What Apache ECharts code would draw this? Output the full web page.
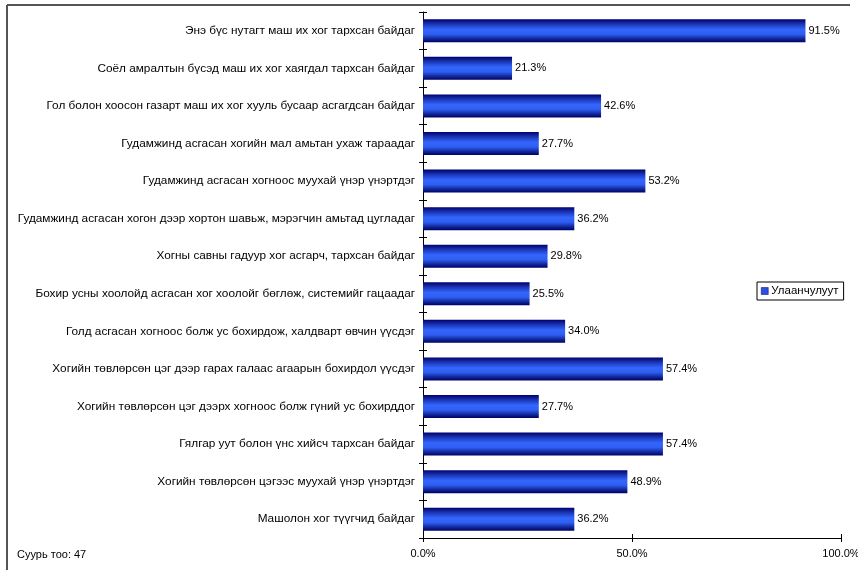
<!DOCTYPE html>
<html><head><meta charset="utf-8">
<script src="https://cdn.jsdelivr.net/npm/echarts@6/dist/echarts.min.js"></script>
<style>html,body{margin:0;padding:0;background:#fff;overflow:hidden}#c{width:858px;height:570px}</style>
</head><body><div id="c"></div>
<script>
var categories = [
  "Энэ бүс нутагт маш их хог тархсан байдаг",
  "Соёл амралтын бүсэд маш их хог хаягдал тархсан байдаг",
  "Гол болон хоосон газарт маш их хог хууль бусаар асгагдсан байдаг",
  "Гудамжинд асгасан хогийн мал амьтан ухаж тараадаг",
  "Гудамжинд асгасан хогноос муухай үнэр үнэртдэг",
  "Гудамжинд асгасан хогон дээр хортон шавьж, мэрэгчин амьтад цугладаг",
  "Хогны савны гадуур хог асгарч, тархсан байдаг",
  "Бохир усны хоолойд асгасан хог хоолойг бөглөж, системийг гацаадаг",
  "Голд асгасан хогноос болж ус бохирдож, халдварт өвчин үүсдэг",
  "Хогийн төвлөрсөн цэг дээр гарах галаас агаарын бохирдол үүсдэг",
  "Хогийн төвлөрсөн цэг дээрх хогноос болж гүний ус бохирддог",
  "Гялгар уут болон үнс хийсч тархсан байдаг",
  "Хогийн төвлөрсөн цэгээс муухай үнэр үнэртдэг",
  "Машолон хог түүгчид байдаг"
];
var values = [91.5, 21.3, 42.6, 27.7, 53.2, 36.2, 29.8, 25.5, 34.0, 57.4, 27.7, 57.4, 48.9, 36.2];
var seriesName = "Улаанчулуут";
var baseNote = "Суурь тоо: 47";
var xTicks = [0, 50, 100];

var FONT = "'Liberation Sans', Arial, sans-serif";
var chart = echarts.init(document.getElementById('c'), null, {renderer: 'canvas', width: 858, height: 570});
var grad = new echarts.graphic.LinearGradient(0, 0, 0, 1, [
  {offset: 0, color: '#00006e'},
  {offset: 0.2, color: '#1a33b0'},
  {offset: 0.45, color: '#3366ff'},
  {offset: 0.65, color: '#2f5ef0'},
  {offset: 0.85, color: '#10279a'},
  {offset: 1, color: '#000066'}
]);
function gridRect() { return {left: 423, right: 17, top: 12, bottom: 32, containLabel: false, outerBoundsMode: 'none'}; }
chart.setOption({
  animation: false,
  textStyle: {fontFamily: FONT},
  grid: [gridRect(), gridRect()],
  legend: {
    show: true, data: [seriesName], left: 757, top: 282,
    itemWidth: 7, itemHeight: 7, itemGap: 4,
    padding: [3, 5, 3, 4], borderColor: '#000', borderWidth: 1,
    backgroundColor: '#fff',
    textStyle: {fontSize: 11.5, color: '#000', fontFamily: FONT, padding: [0, 0, 0, -2]},
    icon: 'rect', itemStyle: {color: '#2a50e0', borderColor: '#00006e', borderWidth: 0.5}
  },
  xAxis: [{
    gridIndex: 0, type: 'value', min: xTicks[0], max: xTicks[xTicks.length - 1], interval: 50,
    axisLine: {show: true, lineStyle: {color: '#000', width: 1}},
    axisTick: {show: true, length: 4, lineStyle: {color: '#000'}},
    splitLine: {show: false},
    axisLabel: {margin: 10, fontSize: 11, color: '#000', fontFamily: FONT,
      formatter: function (v) { return v.toFixed(1) + '%'; }}
  }, {
    gridIndex: 1, type: 'value', min: xTicks[0], max: xTicks[xTicks.length - 1], interval: 50, position: 'bottom',
    axisLine: {show: false},
    axisTick: {show: true, inside: true, length: 4, lineStyle: {color: '#000'}},
    splitLine: {show: false}, axisLabel: {show: false}
  }],
  yAxis: [{
    gridIndex: 0, type: 'category', data: categories, inverse: true,
    axisLine: {show: true, lineStyle: {color: '#000', width: 1}},
    axisTick: {show: true, length: 4, alignWithLabel: false, lineStyle: {color: '#000'}},
    axisLabel: {margin: 8, fontSize: 11.8, color: '#000', fontFamily: FONT}
  }, {
    gridIndex: 1, type: 'category', data: categories, inverse: true, position: 'left',
    axisLine: {show: false},
    axisTick: {show: true, inside: true, length: 4, lineStyle: {color: '#000'}},
    axisLabel: {show: false}
  }],
  series: [{
    name: seriesName, type: 'bar', data: values, barWidth: 23, xAxisIndex: 0, yAxisIndex: 0,
    itemStyle: {color: grad},
    label: {show: true, position: 'right', distance: 3, fontSize: 11, color: '#000', fontFamily: FONT,
      formatter: function (p) { return p.value.toFixed(1) + '%'; }}
  }],
  graphic: [
    {type: 'line', shape: {x1: 7, y1: 5, x2: 850, y2: 5}, style: {stroke: '#555', lineWidth: 2}},
    {type: 'line', shape: {x1: 7, y1: 5, x2: 7, y2: 570}, style: {stroke: '#555', lineWidth: 2}},
    {type: 'text', left: 17, top: 549, style: {text: baseNote, fontSize: 11, fill: '#000', fontFamily: FONT}}
  ]
});
</script></body></html>
